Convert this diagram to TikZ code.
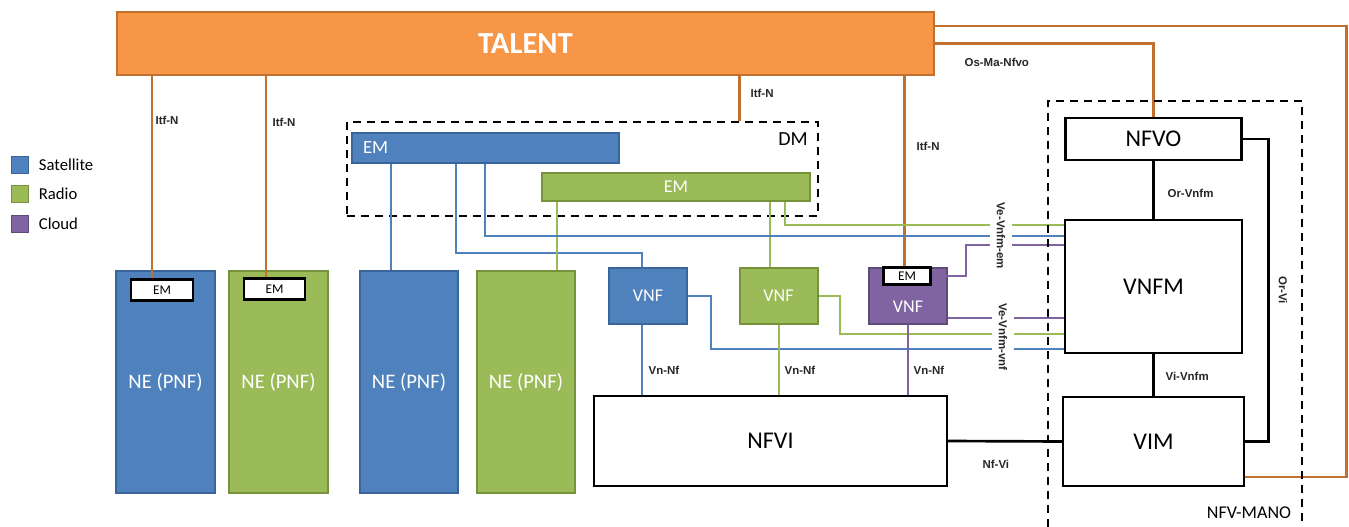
\documentclass[tikz,border=0pt]{standalone}
\usepackage{fontspec}
\setmainfont{Carlito}
\newfontfamily\itffont{Liberation Sans}
\usetikzlibrary{positioning,calc}

\definecolor{satfill}{HTML}{4F81BD}
\definecolor{satdraw}{HTML}{3A659A}
\definecolor{radfill}{HTML}{9BBB59}
\definecolor{raddraw}{HTML}{76923C}
\definecolor{cldfill}{HTML}{8064A2}
\definecolor{clddraw}{HTML}{5F4A7B}
\definecolor{talfill}{HTML}{F79646}
\definecolor{taldraw}{HTML}{C0712F}

\begin{document}
\begin{tikzpicture}[x=0.75pt,y=-0.75pt,
  box/.style={draw,rectangle,inner sep=0pt,align=center},
  sz/.style 2 args={minimum width=#1*0.75pt,minimum height=#2*0.75pt},
  sat/.style={box,fill=satfill,draw=satdraw,line width=1.5pt,text=white},
  rad/.style={box,fill=radfill,draw=raddraw,line width=1.5pt,text=white},
  cld/.style={box,fill=cldfill,draw=clddraw,line width=1.5pt,text=white},
  talent/.style={box,fill=talfill,draw=taldraw,line width=2pt,text=white,
    font=\fontsize{23}{26}\selectfont\bfseries},
  mano/.style={box,fill=white,draw=black,line width=1.6pt,font=\fontsize{18}{20}\selectfont},
  emtag/.style={box,fill=white,draw=black,line width=2pt,text=black,font=\fontsize{10}{12}\selectfont},
  grp/.style={draw=black,line width=2.2pt,dash pattern=on 6pt off 4.5pt,inner sep=0pt},
  nefont/.style={font=\fontsize{15.5}{18}\selectfont},
  vnffont/.style={font=\fontsize{13.5}{16}\selectfont},
  legtxt/.style={font=\fontsize{12.5}{14}\selectfont,inner sep=1pt},
  itf/.style={font=\itffont\fontsize{8.6}{10}\selectfont\bfseries,text=black!85,inner sep=1pt},
  tall/.style={draw=taldraw,line width=1.8pt},
  satl/.style={draw=satfill,line width=1.5pt},
  radl/.style={draw=radfill,line width=1.5pt},
  cldl/.style={draw=cldfill,line width=1.5pt},
  mline/.style={draw=black,line width=2pt}]

  \clip (0,0) rectangle (1349,527);

  % ==========================================
  % TOP: TALENT
  % ==========================================
  \node[talent,sz={817}{63}] (talent) at (525.5,43.5) {TALENT};

  % ==========================================
  % LEGEND
  % ==========================================
  \node[sat,sz={17}{17},line width=1.2pt] (legsat) at (20,165) {};
  \node[rad,sz={17}{17},line width=1.2pt] (legrad) at (20,194) {};
  \node[cld,sz={17}{17},line width=1.2pt] (legcld) at (20,224) {};
  \node[legtxt,right=6pt of legsat] (legsattxt) {Satellite};
  \node[legtxt,right=6pt of legrad] (legradtxt) {Radio};
  \node[legtxt,right=6pt of legcld] (legcldtxt) {Cloud};

  % ==========================================
  % PHYSICAL NETWORK ELEMENTS
  % ==========================================
  \node[sat,nefont,sz={99}{222}] (ne1) at (165.5,382) {NE (PNF)};
  \node[rad,nefont,sz={99}{222}] (ne2) at (278.5,382) {NE (PNF)};
  \node[sat,nefont,sz={98}{222}] (ne3) at (409,382) {NE (PNF)};
  \node[rad,nefont,sz={98}{222}] (ne4) at (526,382) {NE (PNF)};
  \node[emtag,sz={62}{21}] (ne1em) at (162,290) {EM};
  \node[emtag,sz={61}{21}] (ne2em) at (274.5,289) {EM};

  % ==========================================
  % DOMAIN MANAGER
  % ==========================================
  \node[grp,sz={471}{94}] (dm) at (582.5,169) {};
  \node[font=\fontsize{15}{18}\selectfont] (dmlbl) at (793,139) {DM};
  \node[sat,minimum height=30*0.75pt,text width=245*0.75pt,inner xsep=11*0.75pt,
        align=left,font=\fontsize{14}{16}\selectfont] (dmsat) at (485.5,148) {EM};
  \node[rad,sz={268}{28},font=\fontsize{13.5}{16}\selectfont] (dmrad) at (676,187) {EM};

  % ==========================================
  % VIRTUAL NETWORK FUNCTIONS + NFVI
  % ==========================================
  \node[sat,vnffont,sz={78}{56}] (vnfsat) at (648,296) {VNF};
  \node[rad,vnffont,sz={78}{56}] (vnfrad) at (778.5,296) {VNF};
  \node[cld,sz={78}{56}] (vnfcld) at (908,296) {};
  \node[vnffont,text=white] (vnfcldtxt) at (908,307) {VNF};
  \node[emtag,sz={47}{17}] (cldem) at (907,276) {EM};
  \node[mano,sz={353}{90}] (nfvi) at (770.5,441) {NFVI};

  % ==========================================
  % NFV-MANO
  % ==========================================
  \node[mano,sz={176}{42}] (nfvo) at (1153.5,139) {NFVO};
  \node[mano,sz={177}{133}] (vnfm) at (1153.5,286.5) {VNFM};
  \node[mano,sz={181}{89}] (vim) at (1153.5,441.5) {VIM};

  % ==========================================
  % REFERENCE POINTS
  % ==========================================
  % Itf-N towards the element managers
  \draw[tall] ([xshift=-7.5pt]ne1em.north) -- ([xshift=-7.5pt]ne1em.north |- talent.south);
  \draw[tall] ([xshift=-6.4pt]ne2em.north) -- ([xshift=-6.4pt]ne2em.north |- talent.south);
  \coordinate (dmtap) at ($(dm.north east)+(-80,0)$);
  \draw[tall] (dmtap) -- (dmtap |- talent.south);
  \draw[tall] ([xshift=-2pt]cldem.north) -- ([xshift=-2pt]cldem.north |- talent.south);
  % Os-Ma-Nfvo and the return to VIM
  \draw[tall] (talent.east) -| (nfvo.north);
  \draw[tall] ([yshift=13.1pt]talent.east) -- ++(411,0) |- ([yshift=-26.6pt]vim.east);

  % EM taps
  \coordinate (tapa) at ($(dmsat.south west)+(40,0)$);
  \coordinate (tapb) at ($(dmsat.south west)+(105,0)$);
  \coordinate (tapc) at ($(dmsat.south west)+(134,0)$);
  \coordinate (tapd) at ($(dmrad.south west)+(16,0)$);
  \coordinate (tape) at ($(dmrad.south west)+(229,0)$);
  \coordinate (tapf) at ($(dmrad.south west)+(244,0)$);

  \draw[satl] (tapa) -- (tapa |- ne3.north);
  \draw[satl] (tapb) -- ++(0,89) -| ([xshift=-4.5pt]vnfsat.north);
  \draw[radl] (tapd) -- (tapd |- ne4.north);
  \draw[radl] (tape) -- (tape |- vnfrad.north);

  % Ve-Vnfm-em
  \draw[radl] (tapf) |- ([yshift=46.1pt]vnfm.west);
  \draw[satl] (tapc) |- ([yshift=37.9pt]vnfm.west);
  \draw[cldl] (cldem.east) -- ++(34,0) |- ([yshift=31.1pt]vnfm.west);

  % Ve-Vnfm-vnf
  \draw[cldl] ([yshift=-16.5pt]vnfcld.east) -- ([yshift=-16.5pt]vnfcld.east -| vnfm.west);
  \draw[radl] (vnfrad.east) -- ++(21,0) |- ([yshift=-35.6pt]vnfm.west);
  \draw[satl] (vnfsat.east) -- ++(23,0) |- ([yshift=-46.9pt]vnfm.west);

  % Vn-Nf
  \draw[satl] ([xshift=-4.5pt]vnfsat.south) -- ([xshift=-4.5pt]vnfsat.south |- nfvi.north);
  \draw[radl] (vnfrad.south) -- (vnfrad.south |- nfvi.north);
  \draw[cldl] (vnfcld.south) -- (vnfcld.south |- nfvi.north);

  % MANO internals
  \draw[mline] (nfvo) -- (vnfm);
  \draw[mline] (vnfm) -- (vim);
  \draw[mline] (nfvi.east) -- (vim.west);
  \draw[mline] (nfvo.east) -- ++(26,0) |- (vim.east);

  % MANO frame (runs off the bottom edge)
  \node[grp,sz={254}{460}] (manofr) at (1175,331) {};
  \node[font=\fontsize{13.5}{16}\selectfont] (manolbl) at (1249,513) {NFV-MANO};

  % ==========================================
  % INTERFACE LABELS
  % ==========================================
  \node[itf,anchor=west] (lbl1) at (154,120) {Itf-N};
  \node[itf,anchor=west] (lbl2) at (271,122) {Itf-N};
  \node[itf,anchor=west] (lbl3) at (749,93) {Itf-N};
  \node[itf,anchor=west] (lbl4) at (915,146) {Itf-N};
  \node[itf,anchor=west] (lbl5) at (963,62) {Os-Ma-Nfvo};
  \node[itf,anchor=west] (lbl6) at (1166,193) {Or-Vnfm};
  \node[itf,anchor=west] (lbl7) at (1164,376) {Vi-Vnfm};
  \node[itf,anchor=west] (lbl8) at (981,464) {Nf-Vi};
  \node[itf,rotate=-90] (lbl9) at (1283,290) {Or-Vi};
  \node[itf,anchor=west] (lbl10) at (647,370) {Vn-Nf};
  \node[itf,anchor=west] (lbl11) at (783,370) {Vn-Nf};
  \node[itf,anchor=west] (lbl12) at (912,370) {Vn-Nf};
  \node[itf,rotate=-90,fill=white,inner ysep=5pt] (lbl13) at (1001,236) {Ve-Vnfm-em};
  \node[itf,rotate=-90,fill=white,inner ysep=5pt] (lbl14) at (1003,337) {Ve-Vnfm-vnf};

\end{tikzpicture}
\end{document}
